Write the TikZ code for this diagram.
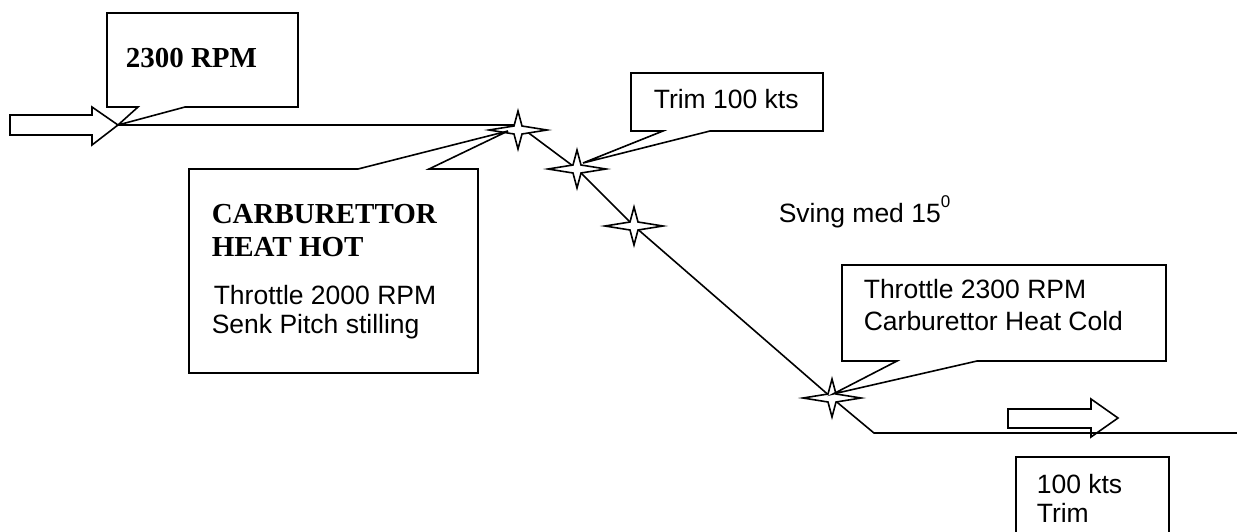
\documentclass[tikz,border=0pt]{standalone}
\usepackage{fontspec}
\setmainfont{Liberation Sans}
\newfontfamily\tnr{Liberation Serif}
\begin{document}
\begin{tikzpicture}[x=1pt,y=-1pt,line width=1.6pt,line join=miter,
  txt/.style={anchor=base west,inner sep=0pt,font=\fontsize{26.5}{30}\selectfont},
  btxt/.style={anchor=base west,inner sep=0pt,font=\tnr\bfseries\fontsize{29}{33}\selectfont},
  callout/.style={draw=black},
  starsh/.style={draw=black,fill=white,line width=1.6pt}]
\useasboundingbox (0,0) rectangle (1237,531);
\clip (0,0) rectangle (1237,531);
% key points
\coordinate (a1) at (118,125);
\coordinate (c1) at (518,125);
\coordinate (s1) at (518,130);
\coordinate (s2) at (577,169);
\coordinate (s3) at (634,226);
\coordinate (s4) at (832,398);
\coordinate (k1) at (874,433);
\coordinate (e1) at (1237,433);
% main flight path
\draw (a1) -- (c1) -- (s2) -- (s3) -- (s4) -- (k1) -- (e1);
% stars
\foreach \s in {s1,s2,s3,s4}{
  \draw[starsh] (\s) ++(29,0) -- ++(-25,-4) -- ++(-4,-15) -- ++(-4,15) -- ++(-25,4)
    -- ++(25,4) -- ++(4,15) -- ++(4,-15) -- cycle;
}
% entry block arrow
\draw (10,115) -- (92,115) -- (92,107) -- (a1) -- (92,145) -- (92,135) -- (10,135) -- cycle;
% exit block arrow
\draw (1008,409) -- (1091,409) -- (1091,399) -- (1118,418) -- (1091,437) -- (1091,428) -- (1008,428) -- cycle;
% callout 2300 RPM
\draw[callout] (107,13) -- (298,13) -- (298,107) -- (185,107) -- (a1) -- (138,107) -- (107,107) -- cycle;
\node[btxt] (t1) at (125,67) {2300 RPM};
% callout carburettor
\draw[callout] (189,169) -- (358,169) -- (508,131) -- (429,169) -- (478,169) -- (478,373) -- (189,373) -- cycle;
\node[btxt] (t2) at (211,223) {CARBURETTOR};
\node[btxt] (t3) at (211,256) {HEAT HOT};
\node[txt] (t4) at (213,304) {Throttle 2000 RPM};
\node[txt] (t5) at (211,333) {Senk Pitch stilling};
% callout trim
\draw[callout] (631,73) -- (823,73) -- (823,131) -- (710,131) -- (583,163) -- (663,131) -- (631,131) -- cycle;
\node[txt] (t6) at (653,108) {Trim 100 kts};
% turn text
\node[txt] (t7) at (778,222) {Sving med 15\raisebox{0.55em}{\fontsize{17}{17}\selectfont 0}};
% callout throttle 2300
\draw[callout] (842,265) -- (1166,265) -- (1166,361) -- (977,361) -- (833,394) -- (897,361) -- (842,361) -- cycle;
\node[txt] (t8) at (863,298) {Throttle 2300 RPM};
\node[txt] (t9) at (863,330) {Carburettor Heat Cold};
% box 100 kts
\draw (1016,560) -- (1016,457) -- (1169,457) -- (1169,560);
\node[txt] (t10) at (1036,493) {100 kts};
\node[txt] (t11) at (1036,522) {Trim};
\end{tikzpicture}
\end{document}
